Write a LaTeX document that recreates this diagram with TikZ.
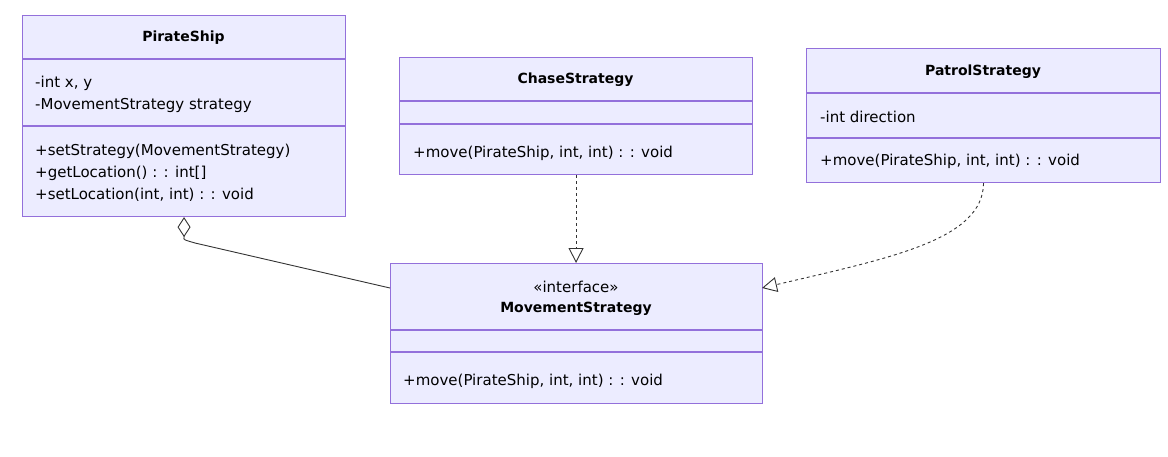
\documentclass[tikz,border=0pt]{standalone}
\usepackage{fontspec}
\setmainfont{DejaVu Sans}
\usetikzlibrary{arrows.meta}
\definecolor{boxfill}{HTML}{ECECFF}
\definecolor{boxline}{HTML}{9370DB}
\definecolor{edge}{HTML}{333333}
\begin{document}
\begin{tikzpicture}[x=1pt,y=-1pt,
  cls/.style={draw=boxline, fill=boxfill, line width=1.1pt, inner sep=0pt, anchor=north west},
  divider/.style={draw=boxline, line width=1.1pt},
  title/.style={font=\fontsize{14}{17}\selectfont\bfseries, text=black, anchor=center},
  member/.style={font=\fontsize{15}{17}\selectfont, text=black, anchor=west, inner sep=0pt},
  stereo/.style={font=\fontsize{15}{17}\selectfont, text=black, anchor=center},
  realize/.style={draw=edge, line width=0.9pt, dash pattern=on 3pt off 3pt, -{Triangle[open, length=15pt, width=15pt, fill=white, line width=0.9pt]}},
  aggr/.style={draw=edge, line width=0.9pt, {Diamond[open, length=20pt, width=13pt, fill=white, line width=0.9pt]}-}
]
\useasboundingbox (0,0) rectangle (1168,456);

% PirateShip
\node[cls, minimum width=323pt, minimum height=201pt] (ps) at (22,15) {};
\draw[divider] (22,59) -- (345,59);
\draw[divider] (22,126) -- (345,126);
\node[title] (psT) at (183.5,38) {PirateShip};
\node[member] (psA1) at (35,83) {-int x, y};
\node[member] (psA2) at (35,105) {-MovementStrategy strategy};
\node[member] (psM1) at (35,151) {+setStrategy(MovementStrategy)};
\node[member] (psM2) at (35,173) {+getLocation() : : int[]};
\node[member] (psM3) at (35,195) {+setLocation(int, int) : : void};

% ChaseStrategy
\node[cls, minimum width=353pt, minimum height=117pt] (cs) at (399,57) {};
\draw[divider] (399,101) -- (752,101);
\draw[divider] (399,124) -- (752,124);
\node[title] (csT) at (575.5,80) {ChaseStrategy};
\node[member] (csM1) at (413,153) {+move(PirateShip, int, int) : : void};

% PatrolStrategy
\node[cls, minimum width=354pt, minimum height=134pt] (pt) at (806,48) {};
\draw[divider] (806,93) -- (1160,93);
\draw[divider] (806,138) -- (1160,138);
\node[title] (ptT) at (983,72) {PatrolStrategy};
\node[member] (ptA1) at (820,117) {-int direction};
\node[member] (ptM1) at (820,161) {+move(PirateShip, int, int) : : void};

% MovementStrategy
\node[cls, minimum width=372pt, minimum height=140pt] (ms) at (390,263) {};
\draw[divider] (390,330) -- (762,330);
\draw[divider] (390,352) -- (762,352);
\node[stereo] (msS) at (576,287) {«interface»};
\node[title] (msT) at (576,309) {MovementStrategy};
\node[member] (msM1) at (403,381) {+move(PirateShip, int, int) : : void};

% connectors
\coordinate (msW) at (390,288);
\coordinate (msE) at (762,288);
\draw[aggr] (ps.south) -- ++(0,20) .. controls (183,240) and (185,240) .. (195,243) -- (msW);
\draw[realize] (cs.south) -- (cs.south |- ms.north);
\draw[realize] (pt.south) .. controls (983,240) and (890,258) .. (msE);
\end{tikzpicture}
\end{document}
